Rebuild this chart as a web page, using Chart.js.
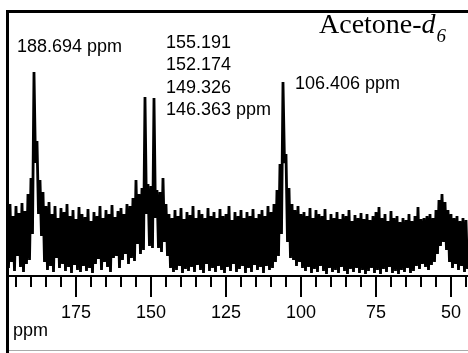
<!DOCTYPE html>
<html>
<head>
<meta charset="utf-8">
<script src="https://cdn.jsdelivr.net/npm/chart.js@4.4.0/dist/chart.umd.min.js"></script>
<style>
  html, body { margin: 0; padding: 0; background: #fff; }
  #wrap { width: 468px; height: 353px; }
</style>
</head>
<body>
<div id="wrap"><canvas id="nmr" width="468" height="353"></canvas></div>
<script>
// spectrum, one column per ppm starting at 198 ppm
// upper = top of the trace, lower = bottom of the trace (arbitrary intensity)
const ppmStart = 198;
const upper = [
  66, 72, 60, 70, 63, 73, 65, 82, 98, 204,
  135, 96, 84, 70, 74, 62, 70, 58, 68, 64,
  72, 60, 66, 57, 69, 62, 59, 67, 55, 64,
  60, 70, 58, 66, 62, 71, 59, 65, 68, 62,
  72, 70, 78, 96, 82, 88, 179, 92, 90, 178,
  86, 84, 98, 72, 62, 58, 66, 60, 68, 57,
  64, 61, 70, 58, 66, 62, 58, 68, 60, 64,
  58, 67, 60, 62, 70, 56, 64, 60, 66, 58,
  64, 60, 67, 58, 62, 66, 60, 70, 64, 72,
  86, 112, 194, 122, 88, 72, 66, 70, 62, 64,
  60, 68, 58, 66, 62, 60, 67, 56, 62, 58,
  64, 57, 62, 60, 66, 55, 61, 58, 63, 57,
  62, 56, 60, 64, 69, 58, 62, 55, 65, 58,
  60, 54, 58, 56, 62, 55, 60, 69, 57, 58,
  60, 62, 58, 66, 76, 82, 74, 66, 62, 58,
  60, 55, 58, 56
];
const lower = [
  8, 14, 5, 20, 9, 4, 12, 16, 42, 113,
  62, 40, 14, 6, 10, 4, 18, 8, 12, 5,
  9, 3, 11, 6, 4, 10, 5, 8, 3, 12,
  17, 6, 14, 9, 4, 18, 20, 8, 16, 22,
  12, 18, 15, 32, 22, 26, 62, 30, 28, 58,
  28, 24, 34, 20, 8, 4, 6, 10, 3, 7,
  5, 9, 4, 11, 6, 3, 12, 5, 8, 4,
  10, 6, 3, 9, 5, 12, 4, 7, 10, 3,
  8, 4, 11, 6, 9, 3, 10, 6, 8, 14,
  20, 42, 113, 34, 18, 16, 10, 14, 8, 5,
  9, 3, 7, 4, 10, 5, 2, 8, 4, 6,
  3, 9, 5, 2, 7, 4, 8, 3, 6, 2,
  5, 8, 3, 6, 2, 7, 4, 9, 3, 5,
  2, 6, 4, 8, 3, 5, 10, 7, 12, 9,
  6, 11, 14, 22, 30, 34, 26, 14, 8, 12,
  6, 10, 4, 7
];
const shifts = [188.694, 155.191, 152.174, 149.326, 146.363, 106.406];
const tickLabels = [50, 75, 100, 125, 150, 175];
const tickMarks = [195, 190, 185, 180, 175, 170, 165, 160, 155, 150, 145, 140, 135, 130, 125,
  120, 115, 110, 105, 100, 95, 90, 85, 80, 75, 70, 65, 60, 55, 50, 45];

const points = [];
upper.forEach((v, i) => {
  const p = ppmStart - i;
  points.push({ x: p, y: v });
  points.push({ x: p - 0.5, y: lower[i] });
});

const sans = '"Liberation Sans", Arial, sans-serif';
const serif = '"Liberation Serif", "Times New Roman", serif';

const decorations = {
  id: 'decorations',
  afterDraw(chart) {
    const { ctx, chartArea, scales: { x } } = chart;
    ctx.save();

    // frame
    ctx.fillStyle = '#000';
    ctx.fillRect(6, 10, 462, 3);
    ctx.fillRect(6, 10, 3, 343);
    ctx.fillStyle = '#aaa';
    ctx.fillRect(9, 350, 459, 1);

    // tick marks, long every 25 ppm
    ctx.strokeStyle = '#000';
    ctx.lineWidth = 2;
    tickMarks.forEach(v => {
      const px = Math.round(x.getPixelForValue(v));
      const len = v % 25 === 0 ? 21 : 11;
      ctx.beginPath();
      ctx.moveTo(px, chartArea.bottom);
      ctx.lineTo(px, chartArea.bottom + len);
      ctx.stroke();
    });

    // peak labels
    ctx.fillStyle = '#000';
    ctx.textBaseline = 'middle';
    ctx.textAlign = 'left';
    ctx.font = '18px ' + sans;
    ctx.fillText(shifts[0].toFixed(3) + ' ppm', 17, 47);
    const group = shifts.slice(1, 5);
    group.forEach((s, i) => {
      const txt = s.toFixed(3) + (i === group.length - 1 ? ' ppm' : '');
      ctx.fillText(txt, 166, 43 + i * 22.5);
    });
    ctx.fillText(shifts[5].toFixed(3) + ' ppm', 295, 84);
    ctx.fillText('ppm', 13, 331);

    // solvent
    ctx.textBaseline = 'alphabetic';
    ctx.font = '28px ' + serif;
    ctx.fillText('Acetone-', 319, 33);
    let w = ctx.measureText('Acetone-').width;
    ctx.font = 'italic 28px ' + serif;
    ctx.fillText('d', 319 + w, 33);
    w += ctx.measureText('d').width;
    ctx.font = 'italic 19px ' + serif;
    ctx.fillText('6', 319 + w + 1, 42);

    ctx.restore();
  }
};

new Chart(document.getElementById('nmr'), {
  type: 'line',
  data: {
    datasets: [{
      data: points,
      borderColor: '#000',
      borderWidth: 2.8,
      pointRadius: 0,
      tension: 0,
      fill: false
    }]
  },
  options: {
    responsive: false,
    animation: false,
    layout: { padding: { top: 11, left: 9, right: 0, bottom: 0 } },
    plugins: { legend: { display: false }, tooltip: { enabled: false } },
    scales: {
      x: {
        type: 'linear',
        reverse: true,
        min: 44.33,
        max: 197.33,
        afterBuildTicks: s => { s.ticks = tickLabels.map(v => ({ value: v })); },
        afterFit: s => { s.height = 77; },
        grid: { display: false, drawTicks: false },
        border: { display: true, color: '#000', width: 2 },
        ticks: {
          color: '#000',
          font: { family: sans, size: 18 },
          padding: 26,
          maxRotation: 0,
          autoSkip: false
        }
      },
      y: {
        display: false,
        min: 0,
        max: 265
      }
    }
  },
  plugins: [decorations]
});
</script>
</body>
</html>
